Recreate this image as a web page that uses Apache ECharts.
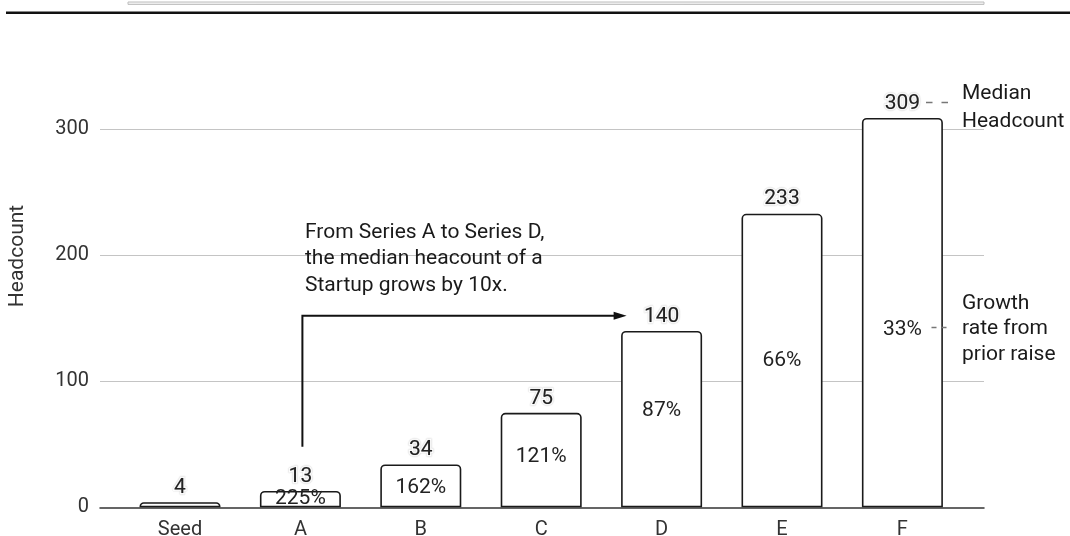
<!DOCTYPE html>
<html>
<head>
<meta charset="utf-8">
<script src="https://cdn.jsdelivr.net/npm/echarts@6/dist/echarts.min.js"></script>
<style>
html,body{margin:0;padding:0;background:#fff;}
#chart{width:1070px;height:536px;}
</style>
</head>
<body>
<div id="chart"></div>
<script>
// ---- data ----
const categories = ['Seed', 'A', 'B', 'C', 'D', 'E', 'F'];
const headcount = [4, 13, 34, 75, 140, 233, 309];
const growthRate = [null, 225, 162, 121, 87, 66, 33];
const yMin = 0, yMax = 400, yInterval = 100;
const arrowFrom = { cat: 'A', low: 48, high: 152 };
const arrowTo = 'D';
const noteText = 'From Series A to Series D,\nthe median heacount of a\nStartup grows by 10x.';

// ---- style-only settings ----
const growthLabelShift = [0, 0, 2, -3, -8, 0, 17];
const FONT = 'Roboto';
const FS = 20;
const FS2 = 21;

const chart = echarts.init(document.getElementById('chart'), null, { renderer: 'canvas' });

const gridTop = 3.3, gridBottom = 28.7;

const option = {
  animation: false,
  backgroundColor: '#fff',
  textStyle: { fontFamily: FONT },
  grid: [
    { left: 119.8, right: 107.4, top: gridTop, bottom: gridBottom, outerBoundsMode: 'none', containLabel: false },
    { left: 100, right: 86, top: gridTop, bottom: gridBottom, outerBoundsMode: 'none', containLabel: false }
  ],
  xAxis: [
    {
      gridIndex: 0, type: 'category', data: categories,
      axisLine: { show: false }, axisTick: { show: false },
      axisLabel: { color: '#333', fontSize: FS, fontFamily: FONT, margin: 13 },
      splitLine: { show: false }
    },
    {
      gridIndex: 1, type: 'value', min: 0, max: 1,
      axisLine: { show: true, lineStyle: { color: '#333', width: 1.5 } },
      axisTick: { show: false }, axisLabel: { show: false }, splitLine: { show: false }
    }
  ],
  yAxis: [
    {
      gridIndex: 0, type: 'value', min: yMin, max: yMax, interval: yInterval,
      show: false
    },
    {
      gridIndex: 1, type: 'value', min: yMin, max: yMax, interval: yInterval,
      axisLine: { show: false }, axisTick: { show: false },
      axisLabel: { color: '#333', fontSize: FS, fontFamily: FONT, margin: 11, showMaxLabel: false },
      splitLine: { show: true, showMinLine: false, showMaxLine: false, lineStyle: { color: '#c4c4c4', width: 1.2 } }
    }
  ],
  series: [
    {
      type: 'bar', xAxisIndex: 0, yAxisIndex: 0,
      data: headcount,
      barWidth: 81,
      z: 3,
      itemStyle: { color: '#fff', borderColor: '#1a1a1a', borderWidth: 1.6, borderRadius: [4, 4, 0, 0] },
      label: {
        show: true, position: 'top', distance: 4,
        color: '#222', fontSize: FS2, fontFamily: FONT,
        textBorderColor: '#fff', textBorderWidth: 3,
        textShadowColor: 'rgba(0,0,0,0.3)', textShadowBlur: 1.2
      }
    },
    {
      type: 'bar', xAxisIndex: 0, yAxisIndex: 0,
      barGap: '-100%', barWidth: 81, z: 4,
      data: headcount.map((v, i) => ({ value: v, label: { offset: [0, growthLabelShift[i]] } })),
      itemStyle: { color: 'rgba(0,0,0,0)', borderWidth: 0 },
      label: {
        show: true, position: 'inside',
        color: '#222', fontSize: FS2, fontFamily: FONT,
        formatter: p => growthRate[p.dataIndex] == null ? '' : growthRate[p.dataIndex] + '%'
      },
      silent: true
    }
  ]
};
chart.setOption(option);

// ---- annotations positioned through the axes ----
const pLow = chart.convertToPixel({ gridIndex: 0 }, [arrowFrom.cat, arrowFrom.low]);
const pHigh = chart.convertToPixel({ gridIndex: 0 }, [arrowFrom.cat, arrowFrom.high]);
const pTo = chart.convertToPixel({ gridIndex: 0 }, [arrowTo, arrowFrom.high]);
const tipX = pTo[0] - 35;
const ax = pLow[0] + 2;

const textStyleBase = { fill: '#1a1a1a', font: FS2 + 'px ' + FONT };

chart.setOption({
  graphic: [
    // page decorations on top
    { type: 'rect', shape: { x: 128, y: 2, width: 856, height: 2.4 }, style: { fill: '#f2f2f2', stroke: '#bdbdbd', lineWidth: 1 }, silent: true },
    { type: 'rect', shape: { x: 6, y: 11.6, width: 1064, height: 2.4 }, style: { fill: '#111' }, silent: true },
    // y-axis title
    { type: 'text', x: 18, y: 256, rotation: Math.PI / 2,
      style: { text: 'Headcount', fill: '#333', font: FS2 + 'px ' + FONT, align: 'center', verticalAlign: 'middle' } },
    // arrow
    { type: 'polyline', z: 10,
      shape: { points: [[ax, pLow[1]], [ax, pHigh[1]], [tipX - 12, pHigh[1]]] },
      style: { stroke: '#111', lineWidth: 2, fill: null } },
    { type: 'polygon', z: 10,
      shape: { points: [[tipX, pHigh[1]], [tipX - 13, pHigh[1] - 4], [tipX - 13, pHigh[1] + 4]] },
      style: { fill: '#111' } },
    // note text
    { type: 'text', x: 305, y: 259, z: 10,
      style: Object.assign({ text: noteText, align: 'left', verticalAlign: 'middle', lineHeight: 26.3 }, textStyleBase) },
    // legend: median headcount
    { type: 'line', shape: { x1: 926, y1: 102.5, x2: 948, y2: 102.5 },
      style: { stroke: '#777', lineWidth: 1.3, lineDash: [6.5, 9] } },
    { type: 'text', x: 962, y: 107.5, z: 10,
      style: Object.assign({ text: 'Median\nHeadcount', align: 'left', verticalAlign: 'middle', lineHeight: 27.5 }, textStyleBase) },
    // legend: growth rate
    { type: 'line', z: 10, shape: { x1: 931.5, y1: 327.5, x2: 946.5, y2: 327.5 },
      style: { stroke: '#777', lineWidth: 1.3, lineDash: [5, 5] } },
    { type: 'text', x: 962, y: 329, z: 10,
      style: Object.assign({ text: 'Growth\nrate from\nprior raise', align: 'left', verticalAlign: 'middle', lineHeight: 25.5 }, textStyleBase) }
  ]
});
</script>
</body>
</html>
